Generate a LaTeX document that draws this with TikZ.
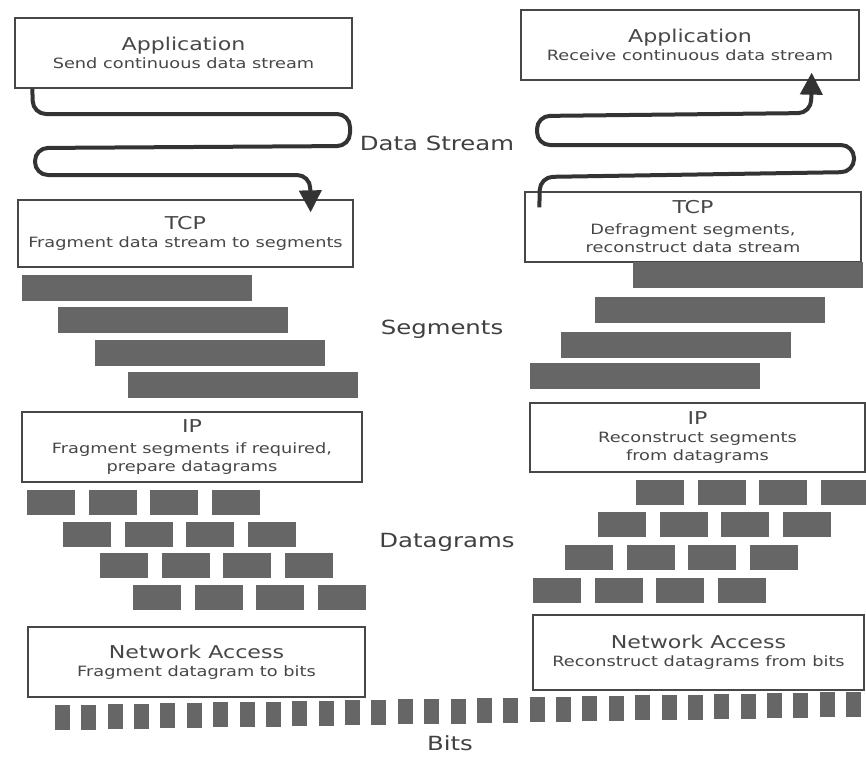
\documentclass[tikz,border=0pt]{standalone}
\usepackage{fontspec}
\setmainfont[FakeStretch=1.25]{DejaVu Sans}
\usetikzlibrary{arrows.meta,calc}

\newcommand\ttlfont{\fontsize{17.7}{21}\selectfont}
\newcommand\subfont{\fontsize{14.2}{18}\selectfont}
\newcommand\lblfont{\fontsize{19.5}{23}\selectfont}

\begin{document}
\begin{tikzpicture}[x=1pt,y=-1pt,
  layerbox/.style={draw=black!72, line width=1.3pt, fill=white, rectangle,
    inner sep=0pt, align=center, text=black!72, font=\subfont},
  block/.style={fill=black!60},
  flow/.style={draw=black!80, line width=4pt, rounded corners=13pt,
    -{Triangle[length=22pt,width=22pt]}},
  lbl/.style={font=\lblfont, text=black!75}]

\useasboundingbox[fill=white] (0,0) rectangle (866,756);

% ---------- sending side ----------
\node[layerbox, minimum width=337pt, minimum height=70pt] (appL) at (183.5,53)
  {{\ttlfont Application}\\Send continuous data stream};
\node[layerbox, minimum width=335pt, minimum height=67pt] (tcpL) at (185.5,233.5)
  {{\ttlfont TCP}\\Fragment data stream to segments};
\node[layerbox, minimum width=340pt, minimum height=70pt] (ipL) at (192,447)
  {{\ttlfont IP}\\[3pt]Fragment segments if required,\\prepare datagrams};
\node[layerbox, minimum width=337pt, minimum height=70pt] (naL) at (196.5,662)
  {{\ttlfont Network Access}\\Fragment datagram to bits};

% ---------- receiving side ----------
\node[layerbox, minimum width=338pt, minimum height=70pt] (appR) at (690,45)
  {{\ttlfont Application}\\Receive continuous data stream};
\node[layerbox, minimum width=336pt, minimum height=70pt] (tcpR) at (693,227)
  {{\ttlfont TCP}\\[3pt]Defragment segments,\\reconstruct data stream};
\node[layerbox, minimum width=335pt, minimum height=69pt] (ipR) at (697.5,437.5)
  {{\ttlfont IP}\\Reconstruct segments\\from datagrams};
\node[layerbox, minimum width=331pt, minimum height=75pt] (naR) at (698.5,652.5)
  {{\ttlfont Network Access}\\Reconstruct datagrams from bits};

% ---------- segments ----------
\foreach \x/\y in {22/275, 58/307, 95/340, 128/372}
  \fill[block] (\x,\y) rectangle ++(230,26);
\foreach \x/\y in {633/262, 595/297, 561/332, 530/363}
  \fill[block] (\x,\y) rectangle ++(230,26);

% ---------- datagrams ----------
\foreach \x/\y in {27/490, 63/522, 100/553, 133/585}
  \foreach \k in {0,...,3}
    \fill[block] (\x+61.5*\k,\y) rectangle ++(48,25);
\foreach \x/\y in {636/480, 598/512, 565/545, 533/578}
  \foreach \k in {0,...,3}
    \fill[block] (\x+61.5*\k,\y) rectangle ++(48,25);

% ---------- bits ----------
\foreach \i in {0,...,30} {
  \pgfmathsetmacro\bx{55+26.37*\i}
  \pgfmathsetmacro\by{705-13*\i/30}
  \fill[block] (\bx,\by) rectangle ++(15,25);
}

% ---------- labels ----------
\node[lbl] (lstream) at (437,143) {Data Stream};
\node[lbl] (lsegm) at (442,329) {Segments};
\node[lbl] (ldgram) at (447,542) {Datagrams};
\node[lbl] (lbits) at (450,743) {Bits};

% ---------- data streams ----------
\draw[flow] ($(appL.south west)+(18,0)$) -- (33,114) -- (350,114) -- (350,146)
  -- (35,148) -- (35,175) -- (310,175) -- ($(tcpL.north east)+(-43,13)$);
\draw[flow] ($(tcpR.north west)+(15,16)$) -- (540,177) -- (854,172) -- (854,145)
  -- (537,145) -- (537,116) -- (811,113) -- ($(appR.south east)+(-48,-8)$);

\end{tikzpicture}
\end{document}
